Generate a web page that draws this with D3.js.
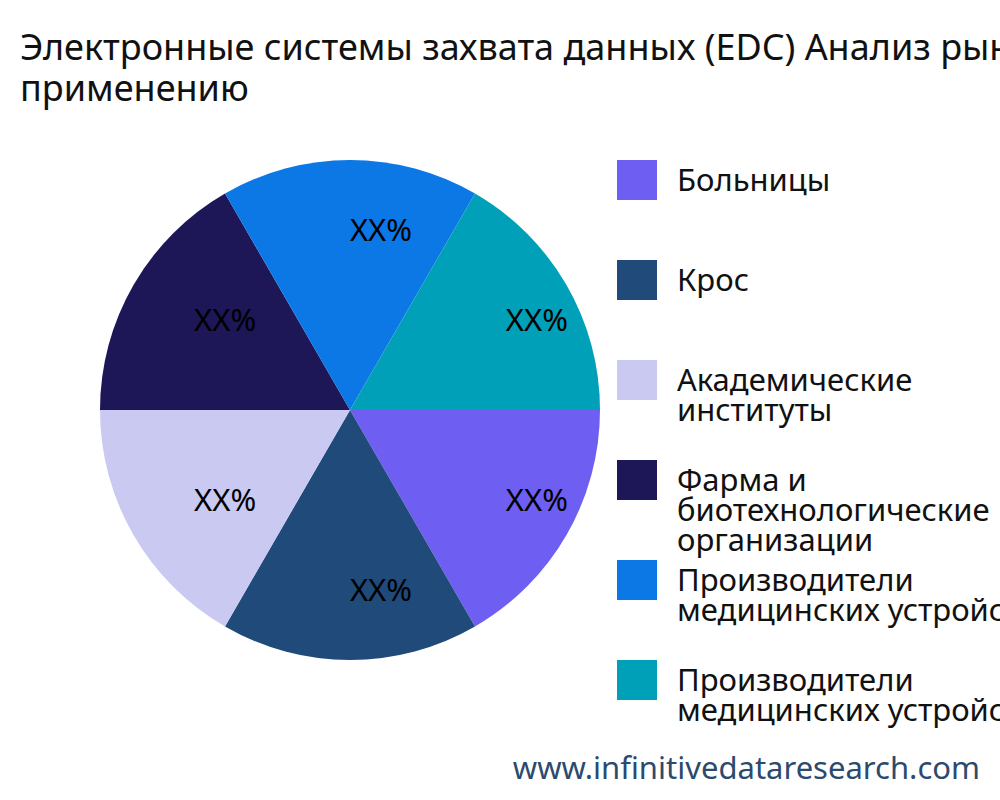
<!DOCTYPE html>
<html><head><meta charset="utf-8">
<script src="https://cdn.jsdelivr.net/npm/d3@7"></script>
<style>body{margin:0;background:#fff}</style>
</head><body><div id="chart"></div>
<script>
var w = 1000, h = 800;
var categories = ["Больницы", "Крос", "Академические институты", "Фарма и биотехнологические организации", "Производители медицинских устройств", "Производители медицинских устройств"];
var legendLines = [["Больницы"], ["Крос"], ["Академические", "институты"], ["Фарма и", "биотехнологические", "организации"], ["Производители", "медицинских устройств"], ["Производители", "медицинских устройств"]];
var values = [1, 1, 1, 1, 1, 1];
var labels = ["XX%", "XX%", "XX%", "XX%", "XX%", "XX%"];
var colors = ["#6f5ef2", "#1f4a7a", "#c9c9f1", "#1d1657", "#0b78e6", "#00a0b8"];
var font = "'Noto Sans', 'Open Sans', sans-serif";

var svg = d3.select("#chart").append("svg").attr("width", w).attr("height", h)
    .style("font-family", font);

svg.append("text").attr("x", 20).attr("y", 60).attr("font-size", 36).attr("fill", "#111")
    .text("Электронные системы захвата данных (EDC) Анализ рынка по применению");
svg.append("text").attr("x", 20).attr("y", 101).attr("font-size", 36).attr("fill", "#111")
    .text("применению");

var cx = 350, cy = 410, r = 250;
var pie = d3.pie().sort(null).startAngle(Math.PI / 2).endAngle(Math.PI / 2 + 2 * Math.PI);
var arcs = pie(values);
var arc = d3.arc().innerRadius(0).outerRadius(r);
var labelArc = d3.arc().innerRadius(180).outerRadius(180);

var g = svg.append("g").attr("transform", "translate(" + cx + "," + cy + ")");
g.selectAll("path").data(arcs).enter().append("path")
    .attr("d", arc).attr("fill", function (d, i) { return colors[i]; });
g.selectAll("text").data(arcs).enter().append("text")
    .attr("x", function (d) { return labelArc.centroid(d)[0] + 31; })
    .attr("y", function (d) { return labelArc.centroid(d)[1]; })
    .attr("dy", "0.35em").attr("text-anchor", "middle")
    .attr("font-size", 31).attr("fill", "#000")
    .text(function (d, i) { return labels[i]; });

var lg = svg.append("g");
categories.forEach(function (c, i) {
    var y = 160 + i * 100;
    lg.append("rect").attr("x", 617).attr("y", y).attr("width", 40).attr("height", 40).attr("fill", colors[i]);
    var t = lg.append("text").attr("x", 677).attr("y", y + 31).attr("font-size", 31).attr("fill", "#111");
    legendLines[i].forEach(function (l, j) {
        t.append("tspan").attr("x", 677).attr("dy", j ? 30 : 0).text(l);
    });
});

svg.append("text").attr("x", 980).attr("y", 779).attr("text-anchor", "end")
    .attr("font-size", 31).attr("fill", "#2c4a6e").text("www.infinitivedataresearch.com");
</script></body></html>
